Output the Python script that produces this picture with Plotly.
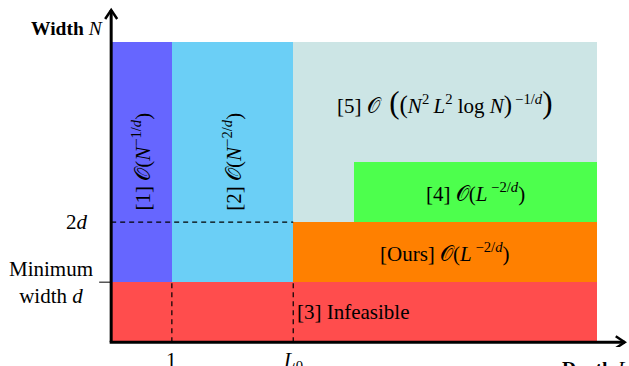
import plotly.graph_objects as go

# ---------------- data (x: depth L, y: width N in units of d) ----------------
region_names = ["[3] Infeasible", "[1]", "[2]", "[5]", "[4]", "[Ours]"]
region_x0 = [0, 0, 1, 3, 4, 3]
region_x1 = [8, 1, 3, 8, 8, 8]
region_y0 = [0, 1, 1, 2, 2, 1]
region_y1 = [1, 5, 5, 5, 3, 2]
region_colors = ["#ff4d4d", "#6666ff", "#6bcff6", "#cce5e5", "#4dff4d", "#ff8000"]

BIGL = '<span style="font-size:31px">(</span>'
BIGR = '<span style="font-size:31px">)</span>'
MIDL = '<span style="font-size:25px">(</span>'
MIDR = '<span style="font-size:25px">)</span>'
TS = "\u2009"

label_texts = [
    "[3] Infeasible",
    "[1] 𝒪(<i>N</i><sup>−1/<i>d</i></sup>)",
    "[2] 𝒪(<i>N</i><sup>−2/<i>d</i></sup>)",
    "[5] 𝒪" + TS + " " + BIGL + MIDL + "<i>N</i><sup>2</sup>" + TS + "<i>L</i><sup>2</sup>"
    + " log <i>N</i>" + MIDR + "<sup>" + TS + "−1/<i>d</i></sup>" + BIGR,
    "[4] 𝒪(<i>L</i><sup> −2/<i>d</i></sup>)",
    "[Ours] 𝒪(<i>L</i><sup> −2/<i>d</i></sup>)",
]
label_x = [4.0, 0.5, 2.0, 5.5, 6.0, 5.5]
label_y = [0.5, 3.0, 3.0, 4.0, 2.5, 1.5]
label_angle = [0, -90, -90, 0, 0, 0]

x_tick_vals = [1, 3]
x_tick_text = ["1", "<i>L</i><sub>0</sub>"]
y_tick_vals = [2, 1]
y_tick_text = ["2<i>d</i>", "Minimum<br>width <i>d</i>"]

dashed_h = [(0, 3, 2)]             # (x0, x1, y)
dashed_v = [(1, 0, 1), (3, 0, 1)]  # (x, y0, y1)

# ---------------- geometry ----------------
W, H = 629, 366
SX, SY = 60.7, 60.0           # pixels per data unit
OX, OY = 111.3, 342.0         # pixel position of origin
XMIN, XMAX = -0.25, 8.5
YMIN, YMAX = -0.08, 5.6
ml = OX + XMIN * SX
pw = (XMAX - XMIN) * SX
mr = W - ml - pw
mb = H - OY + YMIN * SY
ph = (YMAX - YMIN) * SY
mt = H - mb - ph


def px2paper_x(px):
    return (px - ml) / pw


def px2paper_y(py):
    return (H - mb - py) / ph


FONT = "Liberation Serif"
FS = 21

fig = go.Figure()
for n, x0, x1, y0, y1, c in zip(region_names, region_x0, region_x1,
                                 region_y0, region_y1, region_colors):
    fig.add_trace(go.Bar(
        x=[(x0 + x1) / 2], y=[y1 - y0], base=[y0], width=[x1 - x0],
        marker=dict(color=c, line=dict(width=0)), name=n,
        hoverinfo="skip", showlegend=False,
    ))

shapes = []
for x0, x1, y in dashed_h:
    shapes.append(dict(type="line", xref="x", yref="y", x0=x0, x1=x1, y0=y, y1=y,
                       line=dict(color="black", width=1.2, dash="5px,4px")))
for x, y0, y1 in dashed_v:
    shapes.append(dict(type="line", xref="x", yref="y", x0=x, x1=x, y0=y0, y1=y1,
                       line=dict(color="black", width=1.2, dash="5px,4px")))

# axes with arrowheads
x_tip = (625 - OX) / SX
y_tip = (OY - 10) / SY
shapes.append(dict(type="line", xref="x", yref="y", x0=-1.5 / SX, x1=x_tip, y0=0, y1=0,
                   line=dict(color="black", width=3)))
shapes.append(dict(type="line", xref="x", yref="y", x0=0, x1=0, y0=0, y1=y_tip,
                   line=dict(color="black", width=3)))
ah_l, ah_w = 9, 6
shapes.append(dict(type="path", xref="x", yref="y",
                   path=f"M {x_tip - ah_l / SX} {ah_w / SY} L {x_tip} 0 L {x_tip - ah_l / SX} {-ah_w / SY}",
                   line=dict(color="black", width=2.5)))
shapes.append(dict(type="path", xref="x", yref="y",
                   path=f"M {-ah_w / SX} {y_tip - ah_l / SY} L 0 {y_tip} L {ah_w / SX} {y_tip - ah_l / SY}",
                   line=dict(color="black", width=2.5)))
# tick mark for minimum width
shapes.append(dict(type="line", xref="x", yref="y", x0=-12 / SX, x1=0, y0=1, y1=1,
                   line=dict(color="black", width=1)))

font = dict(family=FONT, size=FS, color="black")
annotations = []
for t, x, y, a in zip(label_texts, label_x, label_y, label_angle):
    annotations.append(dict(x=x, y=y, xref="x", yref="y", text=t, showarrow=False,
                            textangle=a, xanchor="center", yanchor="middle", font=font))

for v, t in zip(x_tick_vals, x_tick_text):
    annotations.append(dict(x=v, y=px2paper_y(345.5), xref="x", yref="paper", text=t,
                            showarrow=False, xanchor="center", yanchor="top", font=font))

annotations.append(dict(x=px2paper_x(90), y=px2paper_y(OY - y_tick_vals[0] * SY),
                        xref="paper", yref="paper", text=y_tick_text[0],
                        showarrow=False, xanchor="right", yanchor="middle", font=font))
annotations.append(dict(x=px2paper_x(51), y=px2paper_y(OY - y_tick_vals[1] * SY),
                        xref="paper", yref="paper", text=y_tick_text[1],
                        showarrow=False, xanchor="center", yanchor="middle",
                        align="center", font=font))

font_b = dict(family=FONT, size=19.5, color="black")
annotations.append(dict(x=px2paper_x(105), y=px2paper_y(28), xref="paper", yref="paper",
                        text="<b>Width</b> <i>N</i>", showarrow=False,
                        xanchor="right", yanchor="middle", font=font_b))
annotations.append(dict(x=px2paper_x(631), y=px2paper_y(356), xref="paper", yref="paper",
                        text="<b>Depth</b> <i>L</i>", showarrow=False,
                        xanchor="right", yanchor="top", font=font_b))

fig.update_layout(
    width=W, height=H,
    margin=dict(l=ml, r=mr, t=mt, b=mb, pad=0),
    paper_bgcolor="white", plot_bgcolor="white",
    barmode="overlay", bargap=0,
    xaxis=dict(range=[XMIN, XMAX], visible=False, fixedrange=True),
    yaxis=dict(range=[YMIN, YMAX], visible=False, fixedrange=True),
    shapes=shapes, annotations=annotations,
    showlegend=False,
)

fig.write_html("out.html", config={"displayModeBar": False},
               post_script="document.body.style.margin='0';document.body.style.padding='0';")
